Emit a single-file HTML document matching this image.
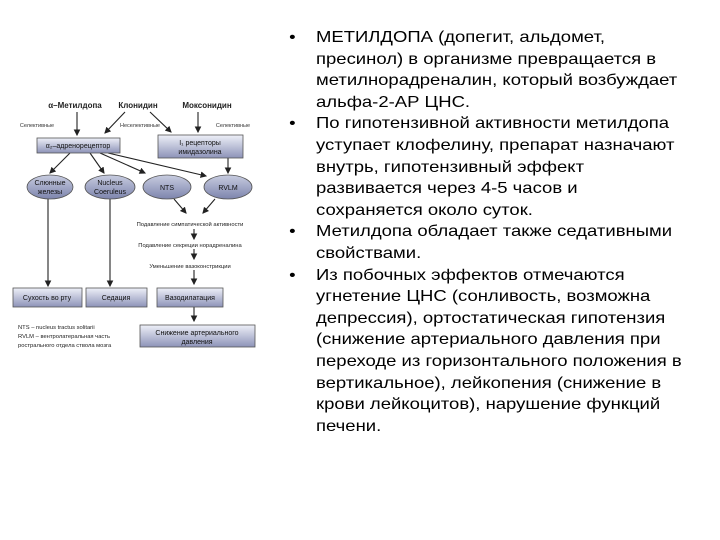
<!DOCTYPE html>
<html><head><meta charset="utf-8"><style>
body{margin:0;background:#fff;width:720px;height:540px;overflow:hidden;position:relative;font-family:"Liberation Sans",sans-serif}
.t{position:absolute;left:316px;top:27px;width:400px;font-size:15.8px;line-height:21.6px;color:#000;white-space:nowrap;transform:scaleX(1.17);transform-origin:0 0}
.t p{margin:0;position:relative}
.t p:before{content:"•";position:absolute;left:-23px}
svg{position:absolute;left:0;top:0}
</style></head><body>
<svg width="280" height="370" font-family="Liberation Sans, sans-serif">
<defs>
<linearGradient id="g" x1="0" y1="0" x2="0" y2="1"><stop offset="0" stop-color="#eef0f8"/><stop offset="1" stop-color="#8d93b8"/></linearGradient>
<linearGradient id="e" x1="0" y1="0" x2="0" y2="1"><stop offset="0" stop-color="#c8cce0"/><stop offset="1" stop-color="#7d84ad"/></linearGradient>
<marker id="a" markerWidth="6" markerHeight="6" refX="5" refY="3" orient="auto"><path d="M0,0L6,3L0,6z" fill="#222"/></marker>
</defs>
<g font-size="8" font-weight="bold" text-anchor="middle" fill="#222">
<text x="75" y="108">α–Метилдопа</text><text x="138" y="108">Клонидин</text><text x="207" y="108">Моксонидин</text></g>
<g font-size="5.5" fill="#333" text-anchor="middle"><text x="37" y="127">Селективные</text><text x="140" y="127">Неселективные</text><text x="233" y="127">Селективные</text></g>
<g stroke="#222" stroke-width="1.1" fill="none" marker-end="url(#a)">
<line x1="77" y1="112" x2="77" y2="135"/><line x1="125" y1="112" x2="105" y2="133"/>
<line x1="150" y1="112" x2="171" y2="132"/><line x1="198" y1="112" x2="198" y2="132"/>
<line x1="70" y1="153" x2="50" y2="173"/><line x1="90" y1="153" x2="104" y2="173"/>
<line x1="100" y1="153" x2="145" y2="173"/><line x1="108" y1="153" x2="206" y2="176"/>
<line x1="228" y1="158" x2="228" y2="173"/>
<line x1="48" y1="199" x2="48" y2="286"/><line x1="110" y1="199" x2="110" y2="286"/>
<line x1="174" y1="199" x2="186" y2="213"/><line x1="215" y1="199" x2="203" y2="213"/>
<line x1="194" y1="229" x2="194" y2="239"/><line x1="194" y1="249" x2="194" y2="259"/>
<line x1="194" y1="270" x2="194" y2="284"/><line x1="194" y1="307" x2="194" y2="321"/>
</g>
<g stroke="#555" stroke-width="0.8" fill="url(#g)">
<rect x="37" y="138" width="83" height="15"/><rect x="158" y="135" width="85" height="23"/>
<rect x="13" y="288" width="69" height="19"/><rect x="86" y="288" width="61" height="19"/>
<rect x="157" y="288" width="66" height="19"/><rect x="140" y="325" width="115" height="22"/>
</g>
<g stroke="#555" stroke-width="0.8" fill="url(#e)">
<ellipse cx="50" cy="187" rx="23" ry="12"/><ellipse cx="110" cy="187" rx="25" ry="12"/>
<ellipse cx="167" cy="187" rx="24" ry="12"/><ellipse cx="228" cy="187" rx="24" ry="12"/>
</g>
<g font-size="7" fill="#111" text-anchor="middle">
<text x="78" y="148">α₂–адренорецептор</text>
<text x="200" y="145">I₁ рецепторы</text><text x="200" y="154">имидазолина</text>
<text x="50" y="185">Слюнные</text><text x="50" y="194">железы</text>
<text x="110" y="185">Nucleus</text><text x="110" y="194">Coeruleus</text>
<text x="167" y="190">NTS</text><text x="228" y="190">RVLM</text>
<text x="47" y="300">Сухость во рту</text><text x="116" y="300">Седация</text><text x="190" y="300">Вазодилатация</text>
<text x="197" y="335">Снижение артериального</text><text x="197" y="344">давления</text>
</g>
<g font-size="5.8" fill="#222" text-anchor="middle">
<text x="190" y="226">Подавление симпатической активности</text>
<text x="190" y="247">Подавление секреции норадреналина</text>
<text x="190" y="268">Уменьшение вазоконстрикции</text>
</g>
<g font-size="5.8" fill="#222"><text x="18" y="329">NTS – nucleus tractus solitarii</text>
<text x="18" y="338">RVLM – вентролатеральная часть</text><text x="18" y="347">рострального отдела ствола мозга</text></g>
</svg>
<div class="t">
<p>МЕТИЛДОПА (допегит, альдомет,<br>пресинол) в организме превращается в<br>метилнорадреналин, который  возбуждает<br>альфа-2-АР ЦНС.</p>
<p>По гипотензивной активности метилдопа<br>уступает клофелину, препарат назначают<br>внутрь, гипотензивный эффект<br>развивается через 4-5 часов и<br>сохраняется около суток.</p>
<p>Метилдопа обладает также седативными<br>свойствами.</p>
<p>Из побочных эффектов отмечаются<br>угнетение ЦНС (сонливость, возможна<br>депрессия), ортостатическая гипотензия<br>(снижение артериального давления при<br>переходе из горизонтального положения в<br>вертикальное), лейкопения (снижение в<br>крови лейкоцитов), нарушение функций<br>печени.</p>
</div>
</body></html>
